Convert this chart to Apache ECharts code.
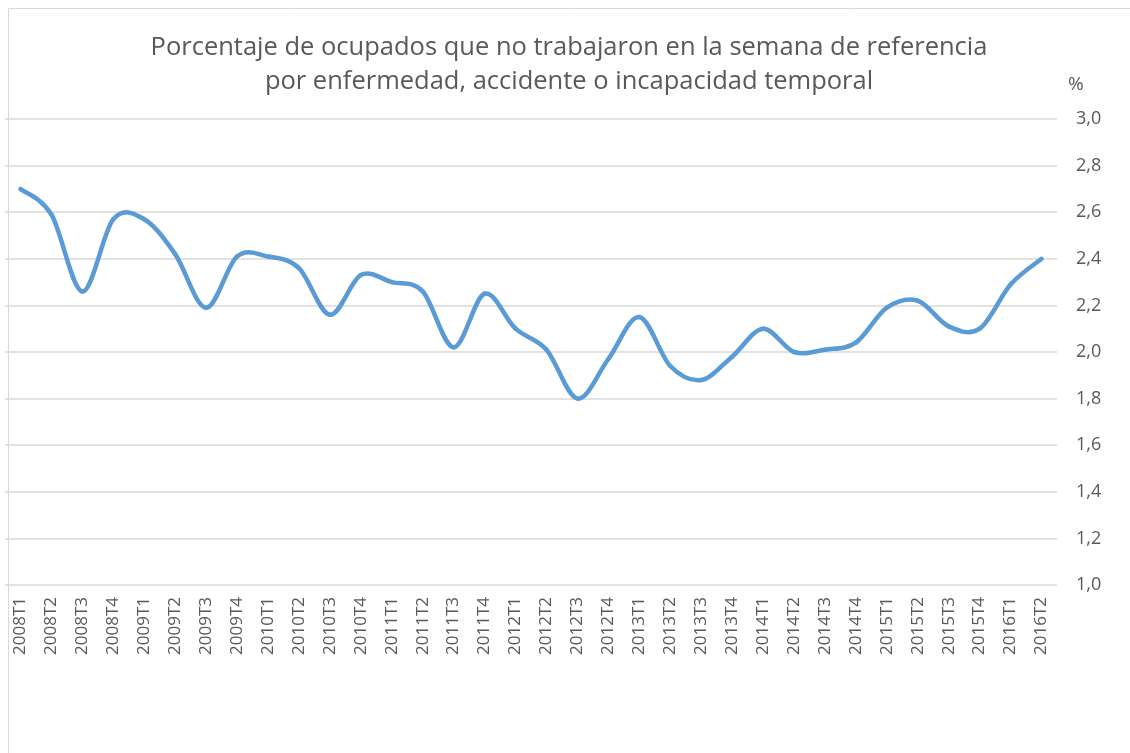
<!DOCTYPE html>
<html>
<head>
<meta charset="utf-8">
<script src="https://cdn.jsdelivr.net/npm/echarts@6/dist/echarts.min.js"></script>
<style>html,body{margin:0;padding:0;background:#fff;}#c{width:1130px;height:753px;}</style>
</head>
<body>
<div id="c"></div>
<script>
const categories = ["2008T1","2008T2","2008T3","2008T4","2009T1","2009T2","2009T3","2009T4","2010T1","2010T2","2010T3","2010T4","2011T1","2011T2","2011T3","2011T4","2012T1","2012T2","2012T3","2012T4","2013T1","2013T2","2013T3","2013T4","2014T1","2014T2","2014T3","2014T4","2015T1","2015T2","2015T3","2015T4","2016T1","2016T2"];
const values = [2.70,2.59,2.26,2.57,2.57,2.42,2.19,2.41,2.41,2.36,2.16,2.33,2.30,2.26,2.02,2.25,2.10,2.01,1.80,1.97,2.15,1.94,1.88,1.98,2.10,2.00,2.01,2.04,2.19,2.22,2.11,2.10,2.29,2.40];
const yTicks = {min: 1.0, max: 3.0, interval: 0.2};
const titleText = "Porcentaje de ocupados que no trabajaron en la semana de referencia\npor enfermedad, accidente o incapacidad temporal";
const unitLabel = "%";

const chart = echarts.init(document.getElementById('c'), null, {renderer: 'canvas'});
const FONT = 'Open Sans';

// smooth curve (Catmull-Rom style, like spreadsheet smoothing) drawn segment by segment
const segData = values.slice(0, -1).map((v, i) => [i, v, i + 1, values[i + 1]]);
function renderSeg(params, api) {
  const i = params.dataIndex;
  const n = values.length;
  const P = k => api.coord([Math.max(0, Math.min(n - 1, k)), values[Math.max(0, Math.min(n - 1, k))]]);
  const p0 = P(i - 1), p1 = P(i), p2 = P(i + 1), p3 = P(i + 2);
  const c1 = [p1[0] + (p2[0] - p0[0]) / 6, p1[1] + (p2[1] - p0[1]) / 6];
  const c2 = [p2[0] - (p3[0] - p1[0]) / 6, p2[1] - (p3[1] - p1[1]) / 6];
  return {
    type: 'bezierCurve',
    shape: {x1: p1[0], y1: p1[1], x2: p2[0], y2: p2[1], cpx1: c1[0], cpy1: c1[1], cpx2: c2[0], cpy2: c2[1]},
    style: {stroke: '#5B9BD5', lineWidth: 4.5, fill: null, lineCap: 'round'}
  };
}

chart.setOption({
  backgroundColor: '#ffffff',
  animation: false,
  graphic: [{
    type: 'rect', left: 6, top: 6, silent: true,
    shape: {width: 1200, height: 800},
    style: {fill: 'none', stroke: '#d9d9d9', lineWidth: 1}
  }],
  title: {
    text: titleText,
    left: 564, textAlign: 'center', top: 26,
    textStyle: {fontFamily: FONT, fontSize: 25.5, fontWeight: 'normal', color: '#595959', lineHeight: 34}
  },
  grid: {left: 5, right: 73, top: 119, bottom: 168, containLabel: false},
  xAxis: {
    type: 'category', data: categories, boundaryGap: true,
    axisLine: {show: false}, axisTick: {show: false},
    axisLabel: {rotate: 90, interval: 0, margin: 12, fontFamily: FONT, fontSize: 17, color: '#595959'}
  },
  yAxis: {
    type: 'value', position: 'right',
    min: yTicks.min, max: yTicks.max, interval: yTicks.interval,
    name: unitLabel, nameLocation: 'end', nameGap: 25,
    nameTextStyle: {fontFamily: FONT, fontSize: 19, color: '#595959', align: 'left', padding: [0, 0, 0, 11]},
    axisLine: {show: false}, axisTick: {show: false},
    splitLine: {lineStyle: {color: '#d9d9d9', width: 1.5}},
    axisLabel: {margin: 19, fontFamily: FONT, fontSize: 18, color: '#595959',
      formatter: v => v.toFixed(1).replace('.', ',')}
  },
  series: [{
    type: 'custom', data: segData, renderItem: renderSeg,
    encode: {x: [0, 2], y: [1, 3]}, silent: true
  }]
});
</script>
</body>
</html>
